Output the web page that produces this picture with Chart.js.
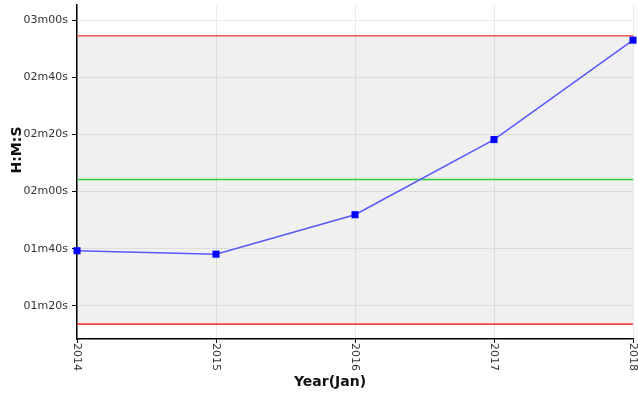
<!DOCTYPE html>
<html>
<head>
<meta charset="utf-8">
<script src="https://cdn.jsdelivr.net/npm/chart.js@4/dist/chart.umd.min.js"></script>
<style>
    html, body { margin: 0; padding: 0; background: #fff; }
    #wrap { width: 638px; height: 394px; }
</style>
</head>
<body>
<div id="wrap"><canvas id="chart"></canvas></div>
<script>
// Valori (secunde)
const years = [2014, 2015, 2016, 2017, 2018];
const seconds = [99.3, 98.1, 111.9, 138.2, 173.0];
const meanLine = 124.2;
const upperLimit = 174.5;
const lowerLimit = 73.6;
const yTicks = [80, 100, 120, 140, 160, 180];
const yTickLabels = ['01m20s', '01m40s', '02m00s', '02m20s', '02m40s', '03m00s'];
const xTickLabels = ['2014', '2015', '2016', '2017', '2018'];

function flatLine(value) {
    return [{ x: years[0], y: value }, { x: years[years.length - 1], y: value }];
}

// Etichete rotite in sensul acelor de ceasornic + titlurile axelor
const labelsPlugin = {
    id: 'labels',
    afterDraw(chart) {
        const ctx = chart.ctx;
        const xs = chart.scales.x;
        ctx.save();
        ctx.fillStyle = '#333';
        ctx.font = '11px "DejaVu Sans"';
        ctx.textAlign = 'left';
        ctx.textBaseline = 'middle';
        years.forEach((yr, i) => {
            const px = xs.getPixelForValue(yr);
            ctx.save();
            ctx.translate(px, chart.chartArea.bottom + 4);
            ctx.rotate(Math.PI / 2);
            ctx.fillText(xTickLabels[i], 0, 0);
            ctx.restore();
        });
        ctx.fillStyle = '#111';
        ctx.font = 'bold 14px "DejaVu Sans"';
        ctx.textAlign = 'center';
        ctx.textBaseline = 'middle';
        ctx.fillText('Year(Jan)', 330, 382);
        ctx.save();
        ctx.translate(17, 150);
        ctx.rotate(-Math.PI / 2);
        ctx.fillText('H:M:S', 0, 0);
        ctx.restore();
        ctx.restore();
    }
};

document.addEventListener('DOMContentLoaded', function() {
    const ctx = document.getElementById('chart').getContext('2d');
    new Chart(ctx, {
        type: 'line',
        data: {
            datasets: [{
                label: 'H:M:S',
                data: years.map((yr, i) => ({ x: yr, y: seconds[i] })),
                borderColor: 'rgba(70, 70, 255, 0.9)',
                borderWidth: 1.5,
                pointStyle: 'rect',
                pointRadius: 5,
                pointBackgroundColor: '#0000ff',
                pointBorderWidth: 0,
                tension: 0,
                fill: false,
                clip: false
            }, {
                label: 'upper',
                data: flatLine(upperLimit),
                borderColor: '#f05858',
                borderWidth: 1.5,
                pointRadius: 0,
                backgroundColor: 'rgba(0, 0, 0, 0.06)',
                fill: '+1'
            }, {
                label: 'lower',
                data: flatLine(lowerLimit),
                borderColor: '#ff0000',
                borderWidth: 1.3,
                pointRadius: 0,
                fill: false
            }, {
                label: 'mean',
                data: flatLine(meanLine),
                borderColor: '#33cc33',
                borderWidth: 1.5,
                pointRadius: 0,
                fill: false
            }]
        },
        options: {
            responsive: true,
            maintainAspectRatio: false,
            animation: false,
            layout: { padding: { top: 5, right: 4, left: 0, bottom: 0 } },
            plugins: {
                legend: { display: false },
                tooltip: { enabled: false },
                filler: { drawTime: 'beforeDatasetsDraw' }
            },
            scales: {
                x: {
                    type: 'linear',
                    min: 2014,
                    max: 2018,
                    afterBuildTicks: function(scale) {
                        scale.ticks = years.map(v => ({ value: v }));
                    },
                    afterFit: function(scale) {
                        scale.height = 55;
                        scale.paddingLeft = 0;
                        scale.paddingRight = 0;
                    },
                    grid: {
                        color: '#eaeaea',
                        tickColor: '#000',
                        tickLength: 4
                    },
                    border: { display: true, color: '#000', width: 1.5 },
                    ticks: { display: false }
                },
                y: {
                    min: 68.4,
                    max: 185.3,
                    afterBuildTicks: function(scale) {
                        scale.ticks = yTicks.map(v => ({ value: v }));
                    },
                    afterFit: function(scale) {
                        scale.width = 77;
                        scale.paddingTop = 0;
                        scale.paddingBottom = 0;
                    },
                    grid: {
                        color: '#eaeaea',
                        tickColor: '#000',
                        tickLength: 5
                    },
                    border: { display: true, color: '#000', width: 1.5 },
                    ticks: {
                        color: '#333',
                        padding: 4,
                        font: { family: 'DejaVu Sans', size: 11 },
                        callback: function(value) {
                            return yTickLabels[yTicks.indexOf(value)];
                        }
                    }
                }
            }
        },
        plugins: [labelsPlugin]
    });
});
</script>
</body>
</html>
